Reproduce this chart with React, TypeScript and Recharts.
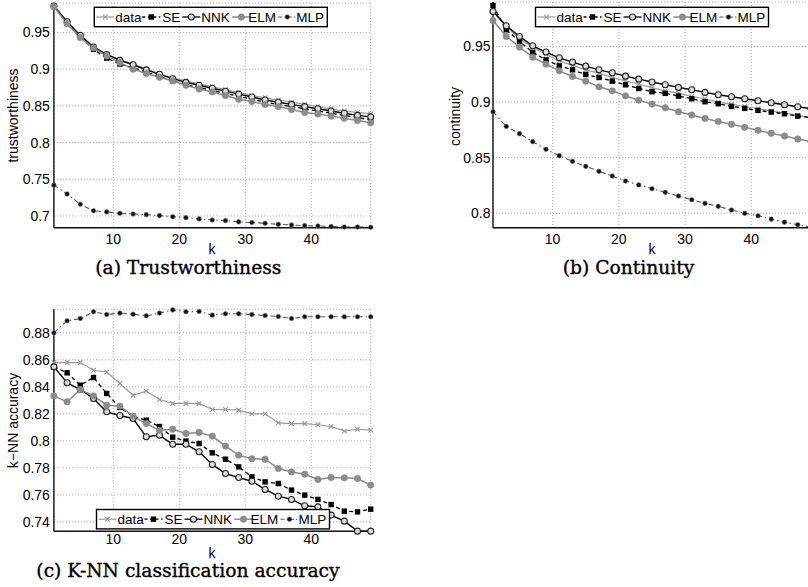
import { LineChart, Line, XAxis, YAxis, CartesianGrid } from 'recharts';

const kValues = [1, 3, 5, 7, 9, 11, 13, 15, 17, 19, 21, 23, 25, 27, 29, 31, 33, 35, 37, 39, 41, 43, 45, 47, 49];

// (a) trustworthiness
const trustData = [0.986, 0.964, 0.946, 0.93, 0.92, 0.913, 0.907, 0.9, 0.894, 0.888, 0.884, 0.88, 0.876, 0.872, 0.868, 0.864, 0.861, 0.858, 0.855, 0.852, 0.849, 0.846, 0.843, 0.841, 0.839];
const trustSE = [0.986, 0.963, 0.944, 0.927, 0.915, 0.907, 0.902, 0.896, 0.89, 0.884, 0.879, 0.875, 0.871, 0.867, 0.863, 0.859, 0.855, 0.852, 0.849, 0.846, 0.843, 0.84, 0.837, 0.834, 0.831];
const trustNNK = [0.986, 0.9645, 0.946, 0.93, 0.92, 0.912, 0.906, 0.899, 0.893, 0.887, 0.882, 0.878, 0.874, 0.87, 0.866, 0.862, 0.858, 0.855, 0.852, 0.849, 0.846, 0.843, 0.84, 0.837, 0.835];
const trustELM = [0.985, 0.962, 0.943, 0.929, 0.918, 0.909, 0.9, 0.894, 0.889, 0.884, 0.878, 0.873, 0.869, 0.864, 0.859, 0.856, 0.852, 0.849, 0.845, 0.841, 0.839, 0.836, 0.833, 0.83, 0.827];
const trustMLP = [0.742, 0.73, 0.716, 0.707, 0.7055, 0.7036, 0.7027, 0.7018, 0.7005, 0.699, 0.6977, 0.696, 0.6945, 0.6936, 0.692, 0.691, 0.69, 0.6886, 0.6877, 0.6868, 0.6864, 0.6855, 0.685, 0.685, 0.6846];

// (b) continuity
const contData = [0.982, 0.968, 0.957, 0.949, 0.943, 0.937, 0.933, 0.929, 0.926, 0.922, 0.919, 0.916, 0.913, 0.91, 0.908, 0.905, 0.903, 0.9, 0.898, 0.896, 0.894, 0.892, 0.89, 0.888, 0.886];
const contSE = [0.9869, 0.965, 0.9545, 0.9446, 0.938, 0.9326, 0.929, 0.9248, 0.9221, 0.9188, 0.9155, 0.9122, 0.9093, 0.9078, 0.9054, 0.903, 0.9003, 0.8985, 0.8961, 0.8943, 0.8925, 0.891, 0.8895, 0.8874, 0.886];
const contNNK = [0.9815, 0.9686, 0.959, 0.9506, 0.945, 0.9398, 0.9359, 0.9323, 0.929, 0.9263, 0.9233, 0.9206, 0.918, 0.9156, 0.9132, 0.9111, 0.9087, 0.9066, 0.9048, 0.903, 0.9012, 0.8994, 0.8976, 0.8958, 0.894];
const contELM = [0.9734, 0.959, 0.9494, 0.9404, 0.9341, 0.9281, 0.923, 0.9188, 0.9137, 0.9101, 0.9056, 0.9017, 0.8982, 0.8949, 0.8913, 0.8883, 0.8853, 0.8826, 0.88, 0.8773, 0.8746, 0.8719, 0.8695, 0.8668, 0.8645];
const contMLP = [0.8913, 0.8781, 0.8716, 0.8644, 0.8575, 0.8518, 0.8467, 0.8422, 0.8377, 0.8335, 0.829, 0.8255, 0.8221, 0.8188, 0.8155, 0.8122, 0.8089, 0.8062, 0.8029, 0.7999, 0.7977, 0.7947, 0.792, 0.7896, 0.7875];

// (c) k-NN accuracy
const knnData = [0.858, 0.858, 0.858, 0.8523, 0.851, 0.8425, 0.8338, 0.8368, 0.8306, 0.8277, 0.8277, 0.8277, 0.8232, 0.8232, 0.8227, 0.82, 0.82, 0.8133, 0.8128, 0.8128, 0.8119, 0.8106, 0.8072, 0.8086, 0.8079];
const knnSE = [0.8548, 0.8504, 0.8412, 0.8469, 0.8351, 0.8247, 0.818, 0.8153, 0.8106, 0.8027, 0.7998, 0.798, 0.7911, 0.7864, 0.7807, 0.7733, 0.7696, 0.7684, 0.7635, 0.7598, 0.7566, 0.7528, 0.7479, 0.7474, 0.7494];
const knnNNK = [0.8548, 0.843, 0.838, 0.8314, 0.8215, 0.8188, 0.8165, 0.803, 0.8042, 0.7975, 0.7975, 0.7919, 0.7825, 0.7758, 0.7728, 0.7701, 0.764, 0.759, 0.7566, 0.7519, 0.7511, 0.745, 0.7405, 0.7331, 0.7331];
const knnELM = [0.8333, 0.8289, 0.838, 0.8333, 0.8264, 0.8257, 0.8183, 0.8128, 0.8079, 0.8086, 0.8054, 0.8062, 0.8035, 0.7961, 0.7894, 0.7867, 0.7864, 0.7795, 0.777, 0.7753, 0.7714, 0.7728, 0.7726, 0.7721, 0.7672];
const knnMLP = [0.88, 0.8889, 0.8906, 0.8956, 0.8936, 0.8946, 0.8938, 0.8926, 0.8946, 0.897, 0.8956, 0.8958, 0.8931, 0.8941, 0.8941, 0.8936, 0.8928, 0.8921, 0.8906, 0.8919, 0.8919, 0.8919, 0.8919, 0.8919, 0.8919];

const xTicks = [10, 20, 30, 40];
const trustTicks = [0.7, 0.75, 0.8, 0.85, 0.9, 0.95];
const contTicks = [0.8, 0.85, 0.9, 0.95];
const knnTicks = [0.74, 0.76, 0.78, 0.8, 0.82, 0.84, 0.86, 0.88];
const legendNames = ['data', 'SE', 'NNK', 'ELM', 'MLP'];

const SANS = '"Liberation Sans", Arial, sans-serif';
const SERIF = '"DejaVu Serif", serif';

const toRows = (d: number[], se: number[], nnk: number[], elm: number[], mlp: number[]) =>
  kValues.map((k, i) => ({ k, data: d[i], SE: se[i], NNK: nnk[i], ELM: elm[i], MLP: mlp[i] }));

const fmt = (v: number) => String(parseFloat(v.toFixed(2)));

// markers
const crossDot = (p: any) => {
  if (p.cx == null || p.cy == null) return <g key={p.index} />;
  const s = 2.3;
  return (
    <path key={p.index} d={`M${p.cx - s},${p.cy - s}L${p.cx + s},${p.cy + s}M${p.cx - s},${p.cy + s}L${p.cx + s},${p.cy - s}`} stroke="#999" strokeWidth={1.1} />
  );
};
const squareDot = (p: any) => {
  if (p.cx == null || p.cy == null) return <g key={p.index} />;
  return <rect key={p.index} x={p.cx - 2.7} y={p.cy - 2.7} width={5.4} height={5.4} fill="#000" />;
};
const openDot = (p: any) => {
  if (p.cx == null || p.cy == null) return <g key={p.index} />;
  return <circle key={p.index} cx={p.cx} cy={p.cy} r={3} fill="#dedede" stroke="#222" strokeWidth={1.1} />;
};
const grayDot = (p: any) => {
  if (p.cx == null || p.cy == null) return <g key={p.index} />;
  return <circle key={p.index} cx={p.cx} cy={p.cy} r={3.2} fill="#8c8c8c" stroke="#8c8c8c" strokeWidth={0.6} />;
};
const blackDot = (p: any) => {
  if (p.cx == null || p.cy == null) return <g key={p.index} />;
  return <circle key={p.index} cx={p.cx} cy={p.cy} r={2.3} fill="#111" stroke="#777" strokeWidth={0.6} />;
};

const tickStyle = { fontSize: 14, fill: '#000', fontFamily: SANS };

function Panel(props: any) {
  const { left, top, width, height, margin, yWidth, domain, yTicks, rows, xGap, yGap } = props;
  return (
    <div style={{ position: 'absolute', left, top }}>
      <LineChart width={width} height={height} data={rows} margin={margin}>
        <CartesianGrid stroke="#aaa" strokeDasharray="1 2" />
        <XAxis
          dataKey="k"
          type="number"
          domain={[1, 49]}
          ticks={xTicks}
          height={30}
          tickSize={0}
          tickMargin={xGap}
          axisLine={{ stroke: '#111', strokeWidth: 1.4 }}
          tick={tickStyle}
        />
        <YAxis
          type="number"
          domain={domain}
          ticks={yTicks}
          tickFormatter={fmt}
          width={yWidth}
          tickSize={0}
          tickMargin={yGap}
          axisLine={{ stroke: '#111', strokeWidth: 1.4 }}
          tick={tickStyle}
        />
        <Line dataKey="data" stroke="#999" strokeWidth={1.2} dot={crossDot} isAnimationActive={false} />
        <Line dataKey="SE" stroke="#000" strokeWidth={1.3} strokeDasharray="4 3" dot={squareDot} isAnimationActive={false} />
        <Line dataKey="NNK" stroke="#000" strokeWidth={1.4} dot={openDot} isAnimationActive={false} />
        <Line dataKey="ELM" stroke="#8a8a8a" strokeWidth={1.5} dot={grayDot} isAnimationActive={false} />
        <Line dataKey="MLP" stroke="#555" strokeWidth={1.1} strokeDasharray="5 3 1.5 3" dot={blackDot} isAnimationActive={false} />
      </LineChart>
    </div>
  );
}

function LegendBox({ x, y }: { x: number; y: number }) {
  const samples = [2, 48, 88, 138, 184];
  const texts = [21, 68, 107, 154, 202];
  const cy = y + 9.7;
  return (
    <g>
      <rect x={x} y={y} width={233} height={19.4} fill="#fff" stroke="#000" strokeWidth={1.4} />
      {legendNames.map((name, i) => {
        const x0 = x + samples[i];
        const x1 = x0 + 18;
        const mx = (x0 + x1) / 2;
        let line: any = null;
        let mark: any = null;
        if (name === 'data') {
          line = <line x1={x0} y1={cy} x2={x1} y2={cy} stroke="#999" strokeWidth={1.2} />;
          mark = crossDot({ cx: mx, cy, index: 'm' });
        } else if (name === 'SE') {
          line = <line x1={x0} y1={cy} x2={x1} y2={cy} stroke="#000" strokeWidth={1.3} strokeDasharray="3 2.5" />;
          mark = squareDot({ cx: mx, cy, index: 'm' });
        } else if (name === 'NNK') {
          line = <line x1={x0} y1={cy} x2={x1} y2={cy} stroke="#000" strokeWidth={1.3} />;
          mark = openDot({ cx: mx, cy, index: 'm' });
        } else if (name === 'ELM') {
          line = <line x1={x0} y1={cy} x2={x1} y2={cy} stroke="#8a8a8a" strokeWidth={1.5} />;
          mark = grayDot({ cx: mx, cy, index: 'm' });
        } else {
          line = <line x1={x0} y1={cy} x2={x1} y2={cy} stroke="#555" strokeWidth={1.1} strokeDasharray="4 2 1.5 2" />;
          mark = blackDot({ cx: mx, cy, index: 'm' });
        }
        return (
          <g key={name}>
            {line}
            {mark}
            <text x={x + texts[i]} y={cy + 4.8} fontSize={13.5} fontFamily={SANS} fill="#000">
              {name}
            </text>
          </g>
        );
      })}
    </g>
  );
}

export default function App() {
  return (
    <div style={{ position: 'absolute', left: 0, top: 0, width: 808, height: 587, overflow: 'hidden', background: '#fff' }}>
      <Panel
        left={0}
        top={0}
        width={400}
        height={290}
        margin={{ top: 3.1, right: 29.3, bottom: 32.3, left: 0 }}
        yWidth={53.9}
        domain={[0.684, 0.99]}
        yTicks={trustTicks}
        rows={toRows(trustData, trustSE, trustNNK, trustELM, trustMLP)}
        xGap={6}
        yGap={4}
      />
      <Panel
        left={400}
        top={0}
        width={420}
        height={290}
        margin={{ top: 2, right: 9, bottom: 32.3, left: 0 }}
        yWidth={93}
        domain={[0.787, 0.99]}
        yTicks={contTicks}
        rows={toRows(contData, contSE, contNNK, contELM, contMLP)}
        xGap={6}
        yGap={2.5}
      />
      <Panel
        left={0}
        top={290}
        width={400}
        height={297}
        margin={{ top: 19.2, right: 29.3, bottom: 25.7, left: 0 }}
        yWidth={53.9}
        domain={[0.733, 0.8975]}
        yTicks={knnTicks}
        rows={toRows(knnData, knnSE, knnNNK, knnELM, knnMLP)}
        xGap={3}
        yGap={4}
      />
      <svg width={808} height={587} style={{ position: 'absolute', left: 0, top: 0, pointerEvents: 'none' }}>
        <LegendBox x={94.3} y={7.3} />
        <LegendBox x={535.5} y={7.3} />
        <LegendBox x={96.5} y={509.5} />

        <text x={212} y={254.3} fontSize={14} fontFamily={SANS} textAnchor="middle">k</text>
        <text x={652} y={254.3} fontSize={14} fontFamily={SANS} textAnchor="middle">k</text>
        <text x={212} y={557.5} fontSize={14} fontFamily={SANS} textAnchor="middle">k</text>

        <text transform="translate(18.3,115.5) rotate(-90)" fontSize={14} fontFamily={SANS} textAnchor="middle">trustworthiness</text>
        <text transform="translate(460,116.5) rotate(-90)" fontSize={14} fontFamily={SANS} textAnchor="middle">continuity</text>
        <text transform="translate(18.3,420.5) rotate(-90)" fontSize={14} fontFamily={SANS} textAnchor="middle">k−NN accuracy</text>

        <g stroke="#000" strokeWidth={0.35}>
          <text x={188.3} y={274.3} fontSize={18.7} fontFamily={SERIF} textAnchor="middle">(a) Trustworthiness</text>
          <text x={628.5} y={274.3} fontSize={18.7} fontFamily={SERIF} textAnchor="middle">(b) Continuity</text>
          <text x={188} y={576.5} fontSize={18.7} fontFamily={SERIF} textAnchor="middle">(c) K-NN classification accuracy</text>
        </g>
      </svg>
    </div>
  );
}
